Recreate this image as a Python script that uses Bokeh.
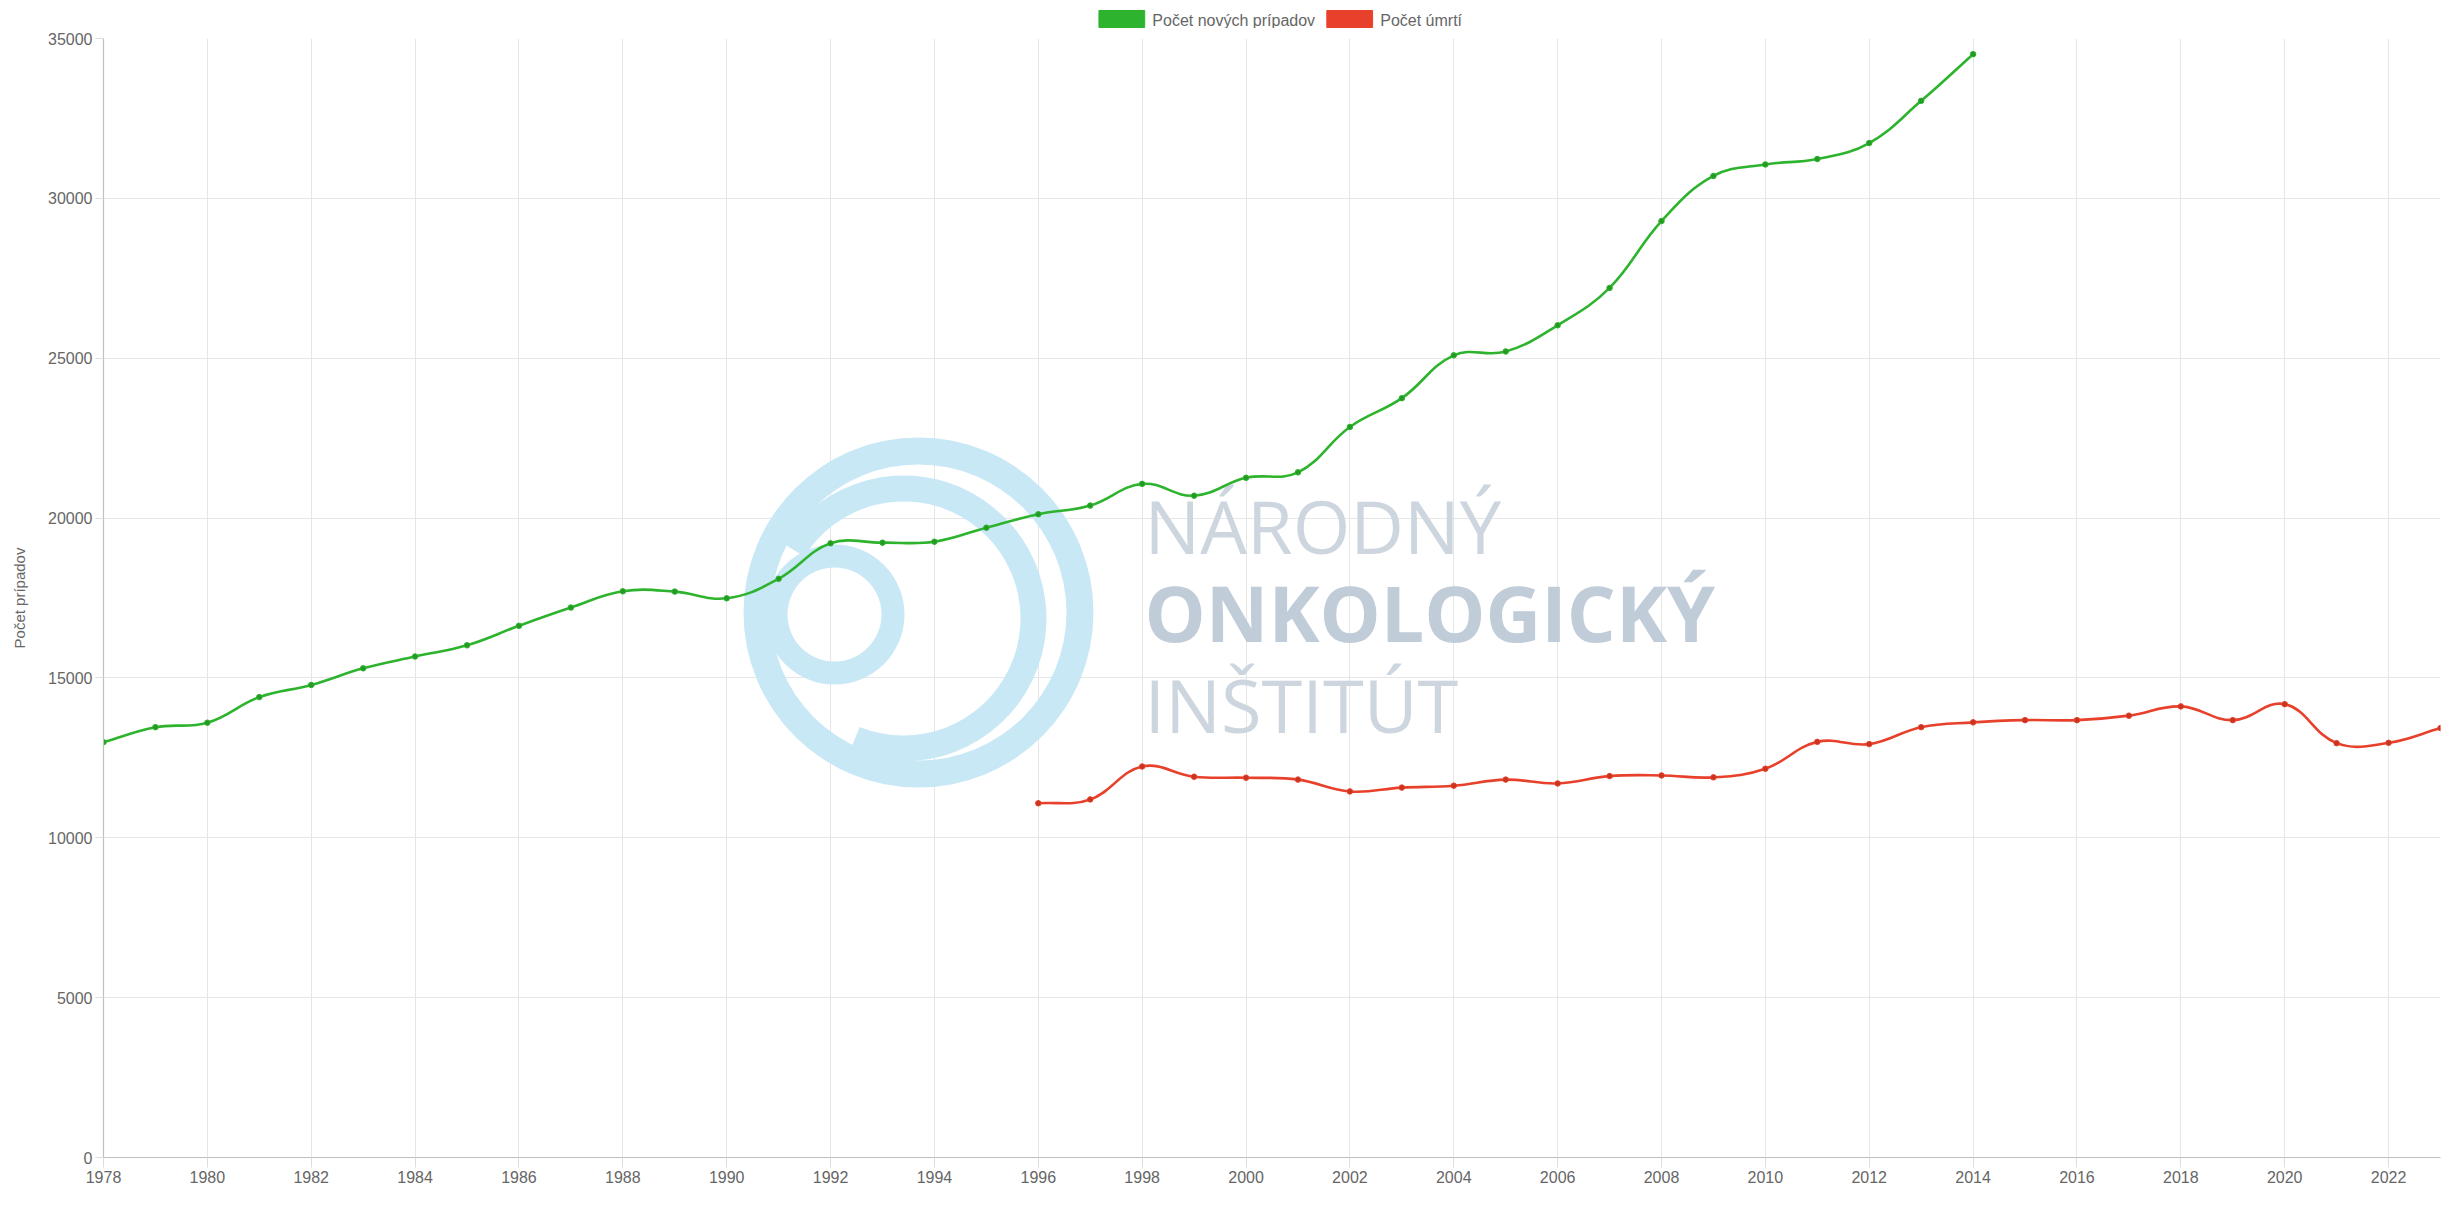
import numpy as np
from bokeh.plotting import figure
from bokeh.layouts import column
from bokeh.models import Range1d, Label, FixedTicker
from bokeh.core.properties import value
from bokeh.embed import file_html
from bokeh.resources import INLINE

# ---------------- data ----------------
years_new = list(range(1978, 2015))
new_cases = [12990, 13460, 13600, 14400, 14780, 15300, 15670, 16020, 16630, 17200,
             17710, 17700, 17490, 18100, 19210, 19230, 19260, 19700, 20120, 20390,
             21070, 20700, 21260, 21430, 22850, 23750, 25090, 25210, 26030, 27200,
             29290, 30700, 31060, 31230, 31730, 33050, 34510]

years_deaths = list(range(1996, 2024))
deaths = [11080, 11200, 12230, 11910, 11880, 11820, 11450, 11570, 11630, 11820,
          11700, 11930, 11950, 11890, 12160, 13000, 12930, 13460, 13610, 13680,
          13680, 13820, 14110, 13680, 14180, 12960, 12970, 13430]

x_ticks = list(range(1978, 2023, 2))
y_ticks = list(range(0, 35001, 5000))

series_names = ["Počet nových prípadov", "Počet úmrtí"]
y_title = "Počet prípadov"
x_title = "Rok"
wm_lines = ["NÁRODNÝ", "ONKOLOGICKÝ", "INŠTITÚT"]

GREEN = "#2db32d"
GREEN_DARK = "#249a24"
RED = "#e8412b"
RED_DARK = "#c8341f"
TXT = "#666666"
FONT = "Liberation Sans"

# ---------------- layout ----------------
W = 2451
LH = 28                      # legend strip height
H = 1206 - LH                # main figure height
ML, MR, MT, MB = 103, 11, 10, 49
X0, X1, Y0, Y1 = 1978, 2023, 0, 35000
fw = W - ML - MR
fh = H - MT - MB
px_per_x = fw / (X1 - X0)
px_per_y = fh / (Y1 - Y0)

# ---------------- legend strip ----------------
leg = figure(width=W, height=LH, output_backend="svg", toolbar_location=None,
             x_range=Range1d(0, W), y_range=Range1d(LH, 0),
             min_border=0, x_axis_type=None, y_axis_type=None)
leg.outline_line_color = None
leg.grid.visible = False
box_left = [1044, 1283]
box_w, box_top, box_h = 48, 10, 17
leg.quad(left=box_left, right=[b + box_w for b in box_left],
         top=[box_top] * 2, bottom=[box_top + box_h] * 2,
         fill_color=[GREEN, RED], line_color=[GREEN, RED])
leg.text(x=[b + box_w + 8 for b in box_left], y=[box_top + box_h / 2 + 1] * 2,
         text=series_names, text_font=value(FONT), text_font_size="16px",
         text_color=TXT, text_baseline="middle", text_align="left")

# ---------------- main figure ----------------
p = figure(width=W, height=H, output_backend="svg", toolbar_location=None,
           x_range=Range1d(X0, X1), y_range=Range1d(Y0, Y1),
           min_border_left=ML, min_border_right=MR, min_border_top=MT,
           min_border_bottom=MB, background_fill_color="white",
           border_fill_color="white")
p.outline_line_color = None

# page px -> data helpers (for watermark placement only)
def gx(px):
    return X0 + (px - ML) / px_per_x

def gy(py):
    return Y0 + (MT + fh - (py - LH)) / px_per_y

# ---------------- watermark ----------------
LOGO = "#c9e8f6"
p.annulus(x=[gx(918)], y=[gy(612)], inner_radius=148, outer_radius=175,
          inner_radius_units="screen", outer_radius_units="screen",
          fill_color=LOGO, line_color=None)
p.annular_wedge(x=[gx(903)], y=[gy(618)], inner_radius=117, outer_radius=143,
                inner_radius_units="screen", outer_radius_units="screen",
                start_angle=-112, end_angle=148, start_angle_units="deg",
                end_angle_units="deg", fill_color=LOGO, line_color=None)
p.annulus(x=[gx(834)], y=[gy(614)], inner_radius=47, outer_radius=70,
          inner_radius_units="screen", outer_radius_units="screen",
          fill_color=LOGO, line_color=None)

BASE_FIX = 32  # Label baseline correction observed in rendering
wm_specs = [(557, 74, "normal", "#cdd6df"),
            (644, 77, "bold", "#c0ccd7"),
            (736, 74, "normal", "#cdd6df")]
for txt, (base, fs, style, col) in zip(wm_lines, wm_specs):
    p.add_layout(Label(x=gx(1144), y=gy(base - BASE_FIX), text=txt,
                       text_font="Open Sans", text_font_size=f"{fs}px",
                       text_font_style=style, text_color=col,
                       text_baseline="alphabetic", text_align="left",
                       level="underlay"))

# ---------------- smooth lines (Chart.js-like tension spline) ----------------
def spline(xs, ys, t=0.4):
    X = np.asarray(xs, float) * px_per_x
    Y = np.asarray(ys, float) * px_per_y
    n = len(X)
    pcx, pcy, ncx, ncy = (np.zeros(n) for _ in range(4))
    for i in range(n):
        a = max(i - 1, 0)
        b = min(i + 1, n - 1)
        d01 = np.hypot(X[i] - X[a], Y[i] - Y[a])
        d12 = np.hypot(X[b] - X[i], Y[b] - Y[i])
        s = d01 + d12
        s01 = d01 / s if s else 0
        s12 = d12 / s if s else 0
        fa, fb = t * s01, t * s12
        pcx[i] = X[i] - fa * (X[b] - X[a])
        pcy[i] = Y[i] - fa * (Y[b] - Y[a])
        ncx[i] = X[i] + fb * (X[b] - X[a])
        ncy[i] = Y[i] + fb * (Y[b] - Y[a])
    return dict(x0=X[:-1] / px_per_x, y0=Y[:-1] / px_per_y,
                x1=X[1:] / px_per_x, y1=Y[1:] / px_per_y,
                cx0=ncx[:-1] / px_per_x, cy0=ncy[:-1] / px_per_y,
                cx1=pcx[1:] / px_per_x, cy1=pcy[1:] / px_per_y)

for xs, ys, col, dark in [(years_new, new_cases, GREEN, GREEN_DARK),
                          (years_deaths, deaths, RED, RED_DARK)]:
    p.bezier(line_color=col, line_width=2.6, **spline(xs, ys))
    p.scatter(xs, ys, size=5.5, fill_color=dark, line_color=col, line_width=1)

# ---------------- axes & grid ----------------
p.xaxis.ticker = FixedTicker(ticks=x_ticks)
p.yaxis.ticker = FixedTicker(ticks=y_ticks)
for ax in (p.xaxis, p.yaxis):
    ax.axis_line_color = "#bfbfbf"
    ax.axis_line_width = 1.2
    ax.major_tick_in = 0
    ax.major_tick_line_color = "#dedede"
    ax.minor_tick_line_color = None
    ax.major_label_text_font = FONT
    ax.major_label_text_font_size = "16px"
    ax.major_label_text_color = TXT
    ax.major_label_standoff = 3
p.xaxis.major_tick_out = 10
p.yaxis.major_tick_out = 8
p.yaxis.axis_label = y_title
p.yaxis.axis_label_text_font = FONT
p.yaxis.axis_label_text_font_size = "15px"
p.yaxis.axis_label_text_font_style = "normal"
p.yaxis.axis_label_text_color = TXT
p.yaxis.axis_label_standoff = 17

p.add_layout(Label(x=gx(1255), y=gy(1188), text=x_title, text_font=FONT,
                   text_font_size="16px", text_color=TXT, text_align="center",
                   text_baseline="top"))

p.xgrid.grid_line_color = "#e6e6e6"
p.ygrid.grid_line_color = "#e6e6e6"
p.xgrid.grid_line_width = 1
p.ygrid.grid_line_width = 1

page = column(leg, p, spacing=0)
open("out.html", "w").write(file_html(page, INLINE))
